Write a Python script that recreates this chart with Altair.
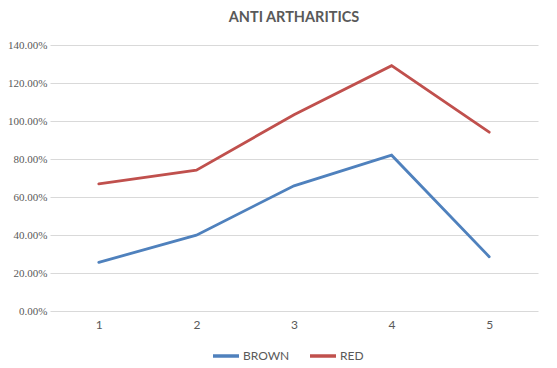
import altair as alt
import pandas as pd

categories = [1, 2, 3, 4, 5]
brown = [0.256, 0.399, 0.659, 0.820, 0.286]
red = [0.669, 0.741, 1.033, 1.291, 0.941]
series_names = ["BROWN", "RED"]
y_ticks = [0, 0.2, 0.4, 0.6, 0.8, 1.0, 1.2, 1.4]

rows = []
for c, b, r in zip(categories, brown, red):
    rows.append({"x": str(c), "series": "BROWN", "value": b})
    rows.append({"x": str(c), "series": "RED", "value": r})
df = pd.DataFrame(rows)

font = "Lato"
narrow = "Liberation Sans Narrow"
txt = "#595959"

chart = alt.Chart(df).mark_line(strokeWidth=2.8, strokeCap="round").encode(
    x=alt.X("x:N", sort=[str(c) for c in categories],
            scale=alt.Scale(paddingInner=1, paddingOuter=0.5),
            axis=alt.Axis(title=None, labelAngle=0, domain=False, ticks=False,
                          grid=False, labelColor=txt, labelFont=font,
                          labelFontSize=12, labelPadding=8)),
    y=alt.Y("value:Q", scale=alt.Scale(domain=[0, 1.4], nice=False),
            axis=alt.Axis(title=None, values=y_ticks, format=".2%", domain=False,
                          ticks=False, gridColor="#d9d9d9", gridWidth=1,
                          labelColor=txt, labelFont=narrow, labelFontSize=11,
                          labelPadding=3)),
    color=alt.Color("series:N", sort=series_names,
                    scale=alt.Scale(domain=series_names, range=["#4F81BD", "#C0504D"]),
                    legend=alt.Legend(title=None, orient="none", direction="horizontal",
                                      legendX=161, legendY=296,
                                      symbolType="stroke", symbolSize=676,
                                      symbolStrokeWidth=3.5, labelFont=font,
                                      labelFontSize=12, labelColor=txt,
                                      labelOffset=2, columnPadding=13)),
).properties(
    width=488, height=266,
    title=alt.TitleParams("ANTI ARTHARITICS", font=font, fontSize=14.5,
                          fontWeight="bold", color=txt, anchor="middle",
                          offset=14),
    autosize=alt.AutoSizeParams(type="none"),
    padding={"left": 42, "top": 37, "right": 11, "bottom": 52},
).configure_view(stroke=None)

chart.save("out.html", embed_options={"renderer": "svg", "actions": False})
